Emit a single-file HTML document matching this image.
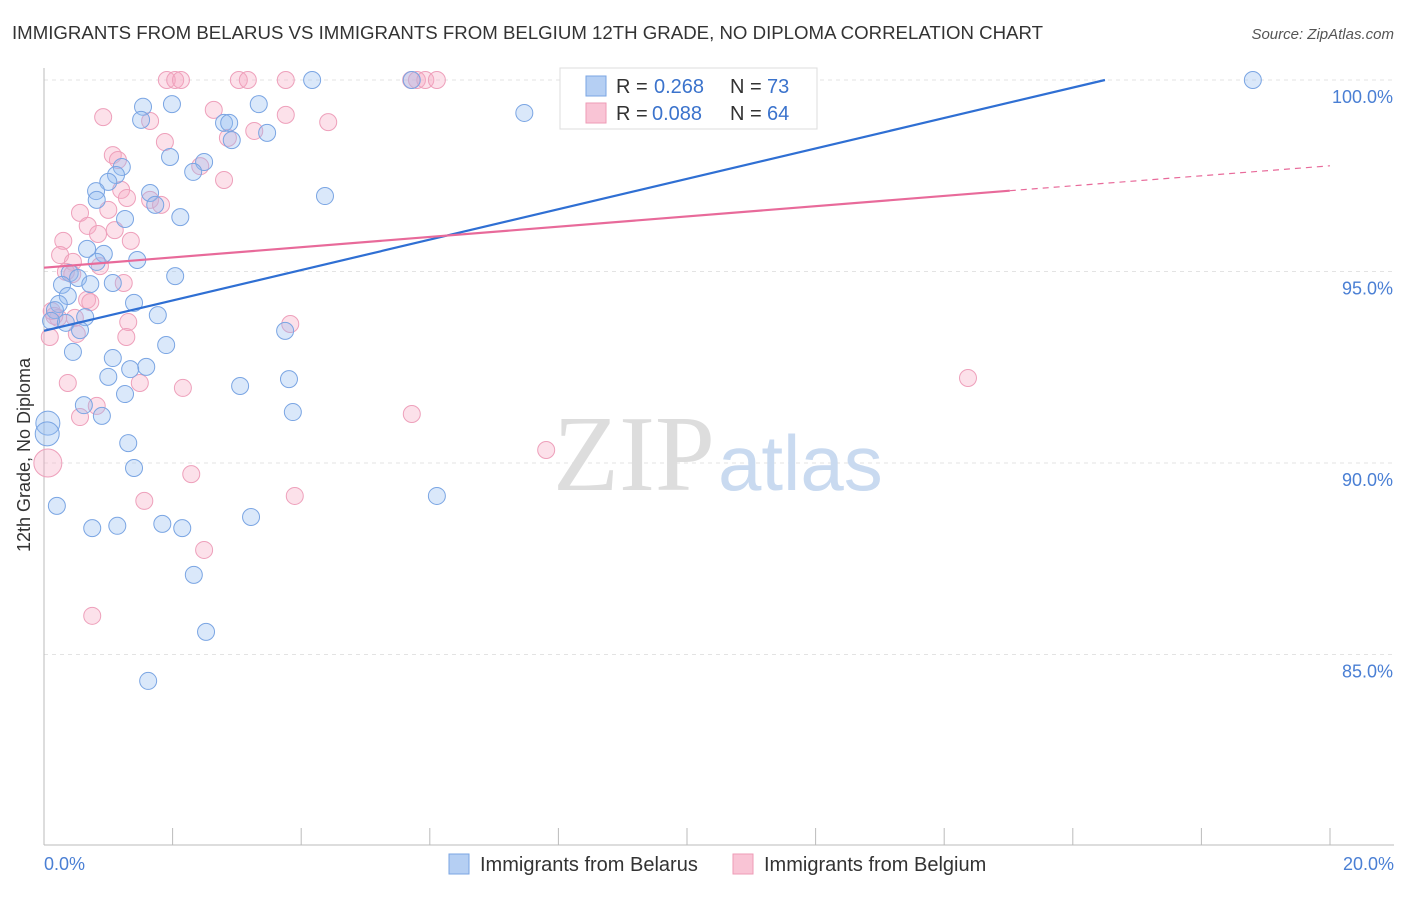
<!DOCTYPE html>
<html><head><meta charset="utf-8"><style>
body{margin:0;background:#fff;font-family:"Liberation Sans",sans-serif}
</style></head><body>
<svg width="1406" height="892" xmlns="http://www.w3.org/2000/svg" font-family="Liberation Sans, sans-serif">
<text x="12" y="39" font-size="18" fill="#333" textLength="1031" lengthAdjust="spacingAndGlyphs">IMMIGRANTS FROM BELARUS VS IMMIGRANTS FROM BELGIUM 12TH GRADE, NO DIPLOMA CORRELATION CHART</text>
<text x="1394" y="39" font-size="15" fill="#555" font-style="italic" text-anchor="end">Source: ZipAtlas.com</text>
<g id="grid"></g>
<text x="715" y="490" font-size="108" fill="#ddd" text-anchor="end" font-family="Liberation Serif, serif">ZIP</text>
<text x="718" y="490" font-size="78" fill="#c9daf0">atlas</text>
<g id="pts"></g>
<g id="trends"></g>
<text x="30" y="455" font-size="18" fill="#333" text-anchor="middle" transform="rotate(-90 30 455)">12th Grade, No Diploma</text>
<text x="44" y="870" font-size="18" fill="#4a7fd4">0.0%</text>
<text x="1394" y="870" font-size="18" fill="#4a7fd4" text-anchor="end">20.0%</text>
<g>
<rect x="560" y="68" width="257" height="61" fill="#fff" stroke="#ddd"/>
<rect x="586" y="76" width="20" height="20" fill="#b5cff3" stroke="#7aa5e3"/>
<rect x="586" y="103" width="20" height="20" fill="#f9c4d5" stroke="#ee9bb6"/>
<text x="616" y="93" font-size="20" fill="#333">R =</text><text x="654" y="93" font-size="20" fill="#3b73cc">0.268</text>
<text x="730" y="93" font-size="20" fill="#333">N =</text><text x="767" y="93" font-size="20" fill="#3b73cc">73</text>
<text x="616" y="120" font-size="20" fill="#333">R =</text><text x="652" y="120" font-size="20" fill="#3b73cc">0.088</text>
<text x="730" y="120" font-size="20" fill="#333">N =</text><text x="767" y="120" font-size="20" fill="#3b73cc">64</text>
</g>
<g><rect x="449" y="854" width="20" height="20" fill="#b5cff3" stroke="#7aa5e3"/><text x="480" y="871" font-size="20" fill="#333">Immigrants from Belarus</text></g>
<g><rect x="733" y="854" width="20" height="20" fill="#f9c4d5" stroke="#ee9bb6"/><text x="764" y="871" font-size="20" fill="#333">Immigrants from Belgium</text></g>
</svg>
<script>
const yTicks=[100,95,90,85];
const yTickLabels=["100.0%","95.0%","90.0%","85.0%"];
const xTicks=[0,2,4,6,8,10,12,14,16,18,20];
const belarusPx=[[312,80],[412,80],[1253,80],[524,113],[143,107],[172,104],[259,104],[141,120],[224,123],[229,123],[232,140],[267,133],[170,157],[204,162],[122,167],[193,172],[116,175],[108,182],[96,191],[97,200],[150,193],[325,196],[155,205],[125,219],[180,217],[87,249],[104,254],[137,260],[97,262],[70,273],[175,276],[78,278],[62,285],[90,284],[113,283],[68,296],[59,304],[134,303],[55,310],[85,317],[158,315],[51,321],[66,323],[80,330],[285,331],[166,345],[73,352],[113,358],[146,367],[130,369],[108,377],[289,379],[240,386],[125,394],[84,405],[293,412],[102,416],[48,423],[47,434],[128,443],[134,468],[437,496],[57,506],[251,517],[162,524],[117,526],[92,528],[182,528],[194,575],[206,632],[148,681]];
const belgiumPx=[[167,80],[175,80],[181,80],[239,80],[248,80],[286,80],[411,80],[417,80],[425,80],[437,80],[103,117],[150,121],[214,110],[286,115],[328,122],[165,142],[228,138],[254,131],[113,155],[118,160],[200,166],[224,180],[121,190],[127,198],[150,200],[161,205],[80,213],[108,210],[88,226],[98,234],[115,230],[63,241],[131,241],[60,255],[73,262],[100,266],[66,272],[72,274],[124,283],[87,300],[90,302],[52,311],[58,318],[128,322],[290,324],[50,337],[77,334],[126,337],[68,383],[140,383],[183,388],[968,378],[97,406],[80,417],[412,414],[546,450],[48,463],[191,474],[295,496],[144,501],[204,550],[92,616],[54,316],[75,318]];
const belarusX=belarusPx.map(p=>+((p[0]-44)/64.3).toFixed(2));
const belarusY=belarusPx.map(p=>+(100-(p[1]-80)/38.3).toFixed(2));
const belgiumX=belgiumPx.map(p=>+((p[0]-44)/64.3).toFixed(2));
const belgiumY=belgiumPx.map(p=>+(100-(p[1]-80)/38.3).toFixed(2));
const belarusTrend=[[0,93.45],[16.5,100]];
const belgiumTrend=[[0,95.1],[15.02,97.11],[20,97.76]];
const X=v=>44+v*64.3, Y=v=>80+(100-v)*38.3;
const NS="http://www.w3.org/2000/svg";
function mk(t,a,p){const e=document.createElementNS(NS,t);for(const k in a)e.setAttribute(k,a[k]);p.appendChild(e);return e;}
const g=document.getElementById('grid');
yTicks.forEach((v,i)=>{
 const l=mk('line',{x1:44,x2:1394,y1:Y(v),y2:Y(v),stroke:'#e3e3e3','stroke-dasharray':'4,4'},g);
 
 
 const t=mk('text',{x:1393,y:Y(v)+23,'font-size':18,fill:'#4a7fd4','text-anchor':'end'},g);t.textContent=yTickLabels[i];
 
 
});
const ax=mk('line',{x1:44,x2:44,y1:68,y2:845,stroke:'#bbb'},g);


const bx=mk('line',{x1:44,x2:1394,y1:845,y2:845,stroke:'#bbb'},g);


xTicks.forEach(v=>{const l=mk('line',{x1:X(v),x2:X(v),y1:828,y2:845,stroke:'#bbb'},g);
 
 });
const P=document.getElementById('pts');
belgiumX.forEach((x,i)=>{const r=(x<0.1&&belgiumY[i]<91)?14:8.5;
 const c=mk('circle',{cx:X(x),cy:Y(belgiumY[i]),r:r,fill:'rgba(246,170,196,0.35)',stroke:'#eea0bb','stroke-width':1},P);
 
 });
belarusX.forEach((x,i)=>{const r=(x<0.1&&belarusY[i]<92)?12:8.5;
 const c=mk('circle',{cx:X(x),cy:Y(belarusY[i]),r:r,fill:'rgba(150,190,240,0.35)',stroke:'#7aa5e3','stroke-width':1},P);
 
 });
const T=document.getElementById('trends');
const bl=mk('line',{x1:X(belarusTrend[0][0]),y1:Y(belarusTrend[0][1]),x2:X(belarusTrend[1][0]),y2:Y(belarusTrend[1][1]),stroke:'#2f6fd3','stroke-width':2.2},T);


const pl=mk('line',{x1:X(belgiumTrend[0][0]),y1:Y(belgiumTrend[0][1]),x2:X(belgiumTrend[1][0]),y2:Y(belgiumTrend[1][1]),stroke:'#e86a9a','stroke-width':2.2},T);


const pd=mk('line',{x1:X(belgiumTrend[1][0]),y1:Y(belgiumTrend[1][1]),x2:X(belgiumTrend[2][0]),y2:Y(belgiumTrend[2][1]),stroke:'#e86a9a','stroke-width':1.2,'stroke-dasharray':'6,5'},T);


</script>
</body></html>
